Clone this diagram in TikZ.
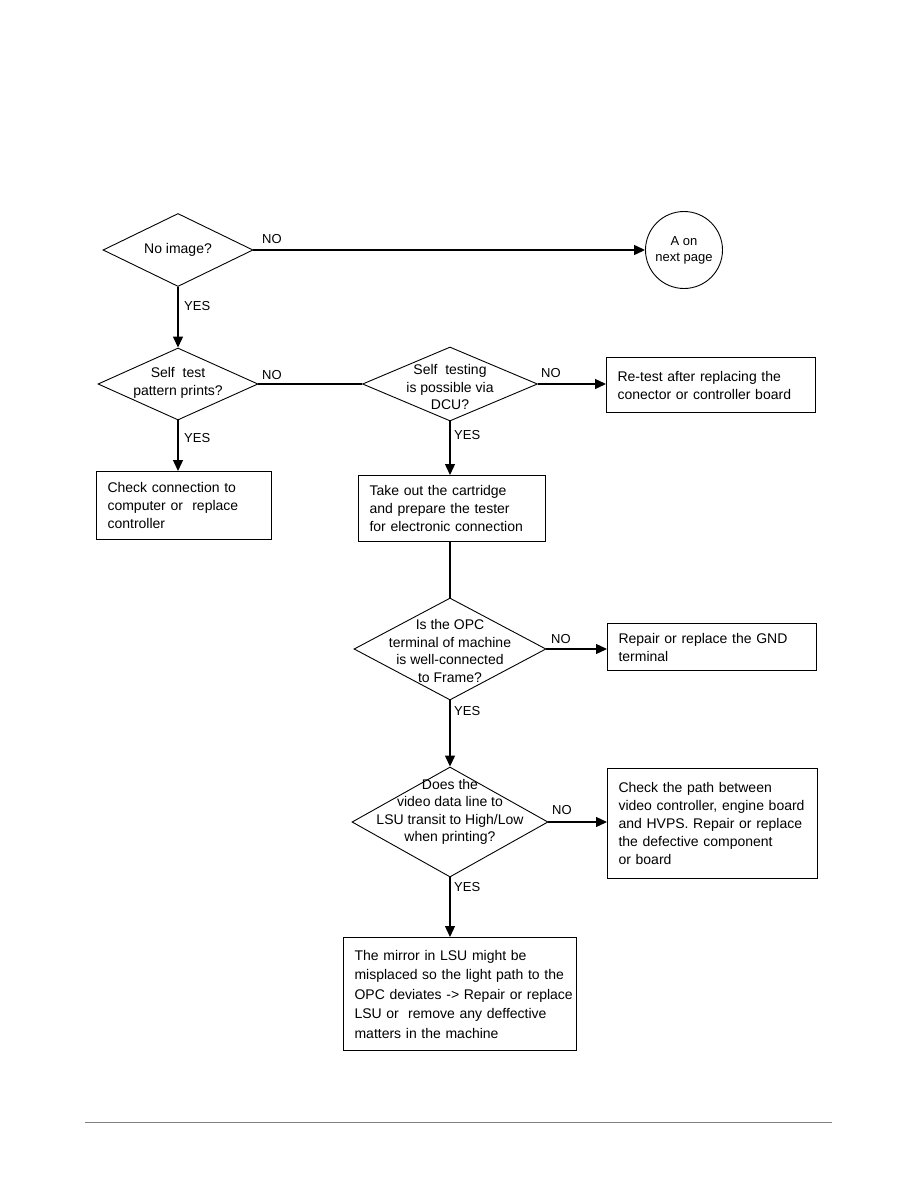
\documentclass[tikz,border=0pt]{standalone}
\usepackage{fontspec}
\setmainfont{Liberation Sans}
\usetikzlibrary{arrows.meta,shapes.geometric}

\begin{document}
\begin{tikzpicture}[x=1pt, y=-1pt, >={Triangle[length=11pt,width=10pt]},
    decision/.style={diamond, draw, line width=0.9pt, inner sep=0pt},
    dtext/.style={align=center, inner sep=0pt, font=\fontsize{14}{17.5}\selectfont},
    box/.style={draw, line width=1.1pt, anchor=north west, inner xsep=11pt, align=left,
        font=\fontsize{14}{18}\selectfont},
    tag/.style={inner sep=0pt, anchor=west, font=\fontsize{13}{15}\selectfont},
    flow/.style={line width=1.3pt}]
    \useasboundingbox (0,0) rectangle (918,1188);

    % decisions
    \node[decision, minimum width=150pt, minimum height=73pt] (q1) at (178,250) {};
    \node[dtext] (q1t) at (178,250) {No image?};
    \node[decision, minimum width=160pt, minimum height=72pt] (q2) at (178,384) {};
    \node[dtext] (q2t) at (178,383) {Self\ \ test\\pattern prints?};
    \node[decision, minimum width=175pt, minimum height=74pt] (q3) at (450,384) {};
    \node[dtext] (q3t) at (450,387) {Self\ \ testing\\is possible via\\DCU?};
    \node[decision, minimum width=192pt, minimum height=102pt] (q4) at (450,649) {};
    \node[dtext] (q4t) at (450,651) {Is the OPC\\terminal of machine\\is well-connected\\to Frame?};
    \node[decision, minimum width=196pt, minimum height=110pt] (q5) at (450,822) {};
    \node[dtext] (q5t) at (450,812) {Does the\\video data line to\\LSU transit to High/Low\\when printing?};

    % connector
    \node[circle, draw, line width=0.9pt, minimum size=77pt, inner sep=0pt, align=center,
        font=\fontsize{13}{16}\selectfont] (ca) at (684,250) {A on\\next page};

    % actions
    \node[box, text width=153pt, minimum height=68pt] (chk) at (96,471)
        {Check connection to\\computer or\ \ replace\\controller};
    \node[box, text width=187pt, minimum height=55pt] (rt) at (606,357)
        {Re-test after replacing the\\conector or controller board};
    \node[box, text width=165pt, minimum height=66pt] (tk) at (358,475)
        {Take out the cartridge\\and prepare the tester\\for electronic connection};
    \node[box, text width=187pt, minimum height=47pt] (gnd) at (607,623)
        {Repair or replace the GND\\terminal};
    \node[box, text width=188pt, minimum height=110pt] (chp) at (607,768)
        {Check the path between\\\mbox{video controller, engine board}\\and HVPS. Repair or replace\\the defective component\\or board};
    \node[box, text width=211pt, minimum height=113pt, font=\fontsize{14}{19.5}\selectfont] (mir) at (343,937)
        {The mirror in LSU might be\\\mbox{misplaced so the light path to the}\\\mbox{OPC deviates -> Repair or replace}\\LSU or\ \ remove any deffective\\matters in the machine};

    % labels
    \node[tag] (n1) at (262,239) {NO};
    \node[tag] (y1) at (184,306) {YES};
    \node[tag] (n2) at (262,375) {NO};
    \node[tag] (y2) at (184,438) {YES};
    \node[tag] (n3) at (541,373) {NO};
    \node[tag] (y3) at (454,435) {YES};
    \node[tag] (n4) at (551,639) {NO};
    \node[tag] (y4) at (454,711) {YES};
    \node[tag] (n5) at (552,810) {NO};
    \node[tag] (y5) at (454,887) {YES};

    % flow
    \draw[flow, ->] (q1.east) -- (ca.west);
    \draw[flow, ->] (q1.south) -- (q2.north);
    \draw[flow] (q2.east) -- (q3.west);
    \draw[flow, ->] (q2.south) -- (q2.south |- chk.north);
    \draw[flow, ->] (q3.east) -- (q3.east -| rt.west);
    \draw[flow, ->] (q3.south) -- (q3.south |- tk.north);
    \draw[flow] (q4.north |- tk.south) -- (q4.north);
    \draw[flow, ->] (q4.east) -- (q4.east -| gnd.west);
    \draw[flow, ->] (q4.south) -- (q5.north);
    \draw[flow, ->] (q5.east) -- (q5.east -| chp.west);
    \draw[flow, ->] (q5.south) -- (q5.south |- mir.north);

    % page rule
    \draw[gray, line width=0.8pt] (85,1122) -- (832,1122);
\end{tikzpicture}
\end{document}
